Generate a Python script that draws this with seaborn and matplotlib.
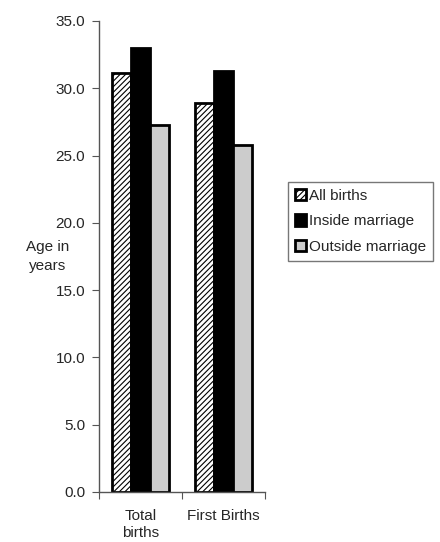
import pandas as pd
import matplotlib.pyplot as plt
import seaborn as sns

# values
categories = ['Total\nbirths', 'First Births']
series = ['All births', 'Inside marriage', 'Outside marriage']
all_births = [31.1, 28.9]
inside_marriage = [33.0, 31.3]
outside_marriage = [27.3, 25.8]
yticks = [0, 5, 10, 15, 20, 25, 30, 35]

df = pd.DataFrame({
    'category': categories * 3,
    'series': [series[0]] * 2 + [series[1]] * 2 + [series[2]] * 2,
    'age': all_births + inside_marriage + outside_marriage,
})

sns.set_style('white')
plt.rcParams['font.family'] = ['Liberation Sans', 'DejaVu Sans']
plt.rcParams['hatch.linewidth'] = 0.8

fig = plt.figure(figsize=(4.4, 5.42), dpi=100)
ax = fig.add_axes([0.225, 0.0923, 0.377, 0.869])

colors = {'All births': 'white', 'Inside marriage': 'black', 'Outside marriage': '#cccccc'}
sns.barplot(data=df, x='category', y='age', hue='series', order=categories,
            hue_order=series, palette=colors, width=0.68, saturation=1,
            edgecolor='black', linewidth=2, ax=ax)

# hatch the "All births" bars
for bar in ax.containers[0]:
    bar.set_hatch('//////')

ax.set_ylim(0, 35)
ax.set_xlim(-0.5, 1.5)
ax.set_yticks(yticks)
ax.set_yticklabels([f'{v:.1f}' for v in yticks], fontsize=11)
ax.set_xticks([-0.5, 0.5, 1.5], minor=False)
ax.set_xticklabels([])
ax.set_xticks([0, 1], minor=True)
ax.set_xticklabels(categories, minor=True, fontsize=11, linespacing=1.3)
ax.tick_params(axis='x', which='minor', length=0, pad=12)
ax.tick_params(axis='x', which='major', direction='out', length=5, color='#555555', bottom=True)
ax.tick_params(axis='y', direction='out', length=5, color='#555555', left=True, pad=5)

for side in ['top', 'right']:
    ax.spines[side].set_visible(False)
for side in ['left', 'bottom']:
    ax.spines[side].set_color('#555555')
    ax.spines[side].set_linewidth(1.0)

ax.set_xlabel('')
ax.set_ylabel('Age in\nyears', rotation=0, fontsize=11, ha='center', va='center',
              linespacing=1.4)
ax.yaxis.set_label_coords(-0.31, 0.5)

leg = ax.legend(loc='upper left', bbox_to_anchor=(288 / 440, 1 - 182 / 542),
                bbox_transform=fig.transFigure, fontsize=11, frameon=True,
                fancybox=False, edgecolor='#555555', handlelength=0.75,
                handleheight=0.75, handletextpad=0.15, borderpad=0.45,
                labelspacing=0.75, borderaxespad=0)
leg.get_frame().set_linewidth(1.0)
for handle in leg.get_patches():
    handle.set_linewidth(2)
leg.get_patches()[0].set_hatch('//////')

fig.savefig('out.png', dpi=100)
